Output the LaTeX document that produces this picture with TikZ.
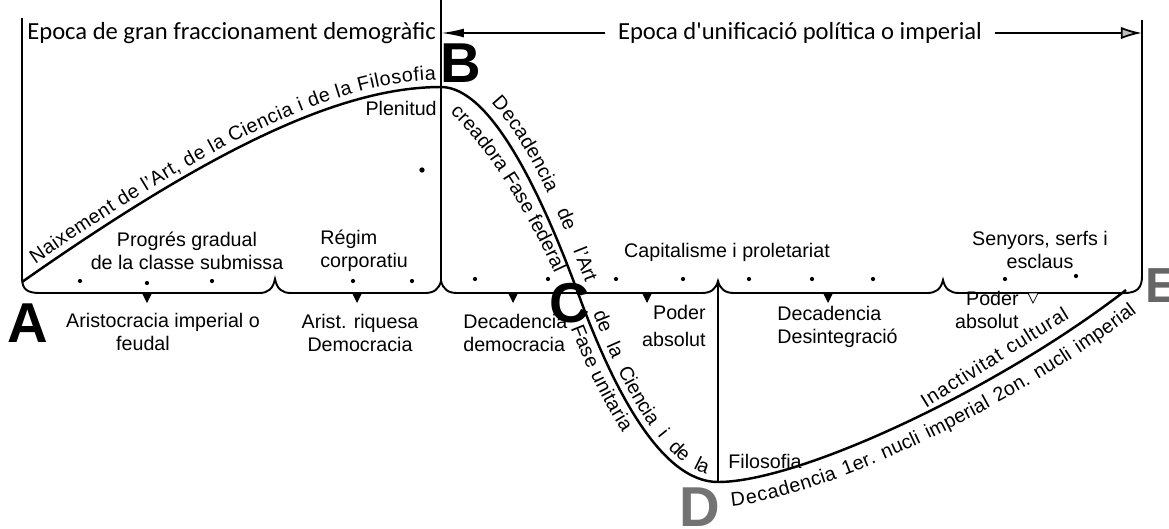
\documentclass[tikz,border=0pt]{standalone}
\usepackage{fontspec}
\setmainfont{Liberation Sans}
\newfontfamily\titlefont{Carlito}
\usepackage{tikz}
\usetikzlibrary{arrows.meta,decorations.text}
\newcommand{\lblfont}{\fontsize{11.2}{12.8}\selectfont}
\tikzset{
    lbl/.style={font=\lblfont, inner sep=0pt},
    ttl/.style={font=\fontsize{14}{16}\selectfont\titlefont, inner sep=0pt},
    bigl/.style={font=\fontsize{32}{34}\selectfont\bfseries, inner sep=0pt},
    frame/.style={line width=1.1pt},
    curve/.style={line width=1.4pt},
    tipmark/.style={insert path={++(-5,0) -- ++(10,0) -- ++(-5,10) -- cycle}}
}
\begin{document}
\begin{tikzpicture}[x=0.02cm,y=-0.02cm]
\useasboundingbox (0,0) rectangle (1169,528);

%titles
\node[ttl, anchor=west] (ttlL) at (27,33) {Epoca de gran fraccionament demogràfic};
\node[ttl, inner xsep=7pt] (ttlR) at (800,33) {Epoca d'unificació política o imperial};
\coordinate (Btop) at (441,33);
\coordinate (Etop) at (1142,33);
\draw[line width=1pt, -{Latex[length=13pt,width=5pt]}] (ttlR.west) -- (Btop);
\draw[line width=1pt, -{Latex[length=12pt,width=7pt,fill=gray!50]}] (ttlR.east) -- (Etop);

%frame and base line
\coordinate (Bpk) at (441,281);
\coordinate (Dpk) at (718,281);
\draw[frame] (22,18) -- (22,278) .. controls (22,290) and (28,293) .. (40,293)
  -- (259,293) .. controls (268,293) and (273,289) .. (275,279) .. controls (277,289) and (282,293) .. (291,293)
  -- (425,293) .. controls (434,293) and (439,289) .. (Bpk) .. controls (443,289) and (448,293) .. (457,293)
  -- (702,293) .. controls (711,293) and (716,289) .. (Dpk) .. controls (720,289) and (725,293) .. (734,293)
  -- (927,293) .. controls (936,293) and (941,289) .. (943,280) .. controls (945,289) and (950,293) .. (959,293)
  -- (1124,293) .. controls (1137,293) and (1142,288) .. (1142,276) -- (1142,20);
\draw[line width=0.6pt] (441,0) -- (Bpk);
\fill (147,293) [tipmark];
\fill (357,293) [tipmark];
\fill (513,293) [tipmark];
\fill (647,293) [tipmark];
\fill (828,293) [tipmark];
\draw[fill=white] (1033,293) [tipmark];
\fill (80,281) circle (1.2pt);
\fill (147,283) circle (1.2pt);
\fill (212,281) circle (1.2pt);
\fill (353,281) circle (1.2pt);
\fill (412,281) circle (1.2pt);
\fill (475,279) circle (1.2pt);
\fill (548,279) circle (1.2pt);
\fill (616,279) circle (1.2pt);
\fill (683,279) circle (1.2pt);
\fill (749,279) circle (1.2pt);
\fill (812,279) circle (1.2pt);
\fill (873,279) circle (1.2pt);
\fill (1005,279) circle (1.2pt);
\fill (1076,276) circle (1.2pt);
\fill (422,170) circle (1.5pt);

%main curve
\coordinate (A) at (22,282);
\coordinate (B) at (441,87);
\coordinate (C) at (578,293);
\coordinate (D) at (718,482);
\coordinate (E) at (1126,290);
\coordinate (ab1) at (210,150);
\coordinate (ab2) at (340,87);
\coordinate (bc1) at (490,87);
\coordinate (bc2) at (540,190);
\coordinate (cd1) at (612,386);
\coordinate (cd2) at (660,482);
\coordinate (de1) at (800,482);
\coordinate (de2) at (1000,388);
\draw[curve] (A) .. controls (ab1) and (ab2) .. (B) .. controls (bc1) and (bc2) .. (C)
  .. controls (cd1) and (cd2) .. (D) .. controls (de1) and (de2) .. (E);
\draw[line width=0.9pt] (Dpk) -- (D);

%texts on the curve
\path[decorate, decoration={text along path, raise=4pt,
  text align={fit to path, left indent=12pt, right indent=3pt},
  text={|\lblfont|Naixement de l'Art, de la Ciencia i de la Filosofia}}]
  (A) .. controls (ab1) and (ab2) .. (B);
\path[decorate, decoration={text along path, raise=6pt,
  text align={fit to path stretching spaces=true, left indent=28pt, right indent=4pt},
  text={|\lblfont|Decadencia de l'Art}}]
  (B) .. controls (bc1) and (bc2) .. (C);
\path[decorate, decoration={text along path,
  text align={left},
  text={|\lblfont|creadora Fase federal}}]
  (450,113) .. controls (490,150) and (528,215) .. (556,276);
\path[decorate, decoration={text along path, raise=4pt,
  text align={fit to path stretching spaces=true, left indent=14pt, right indent=8pt},
  text={|\lblfont|de la Ciencia i de la}}]
  (C) .. controls (cd1) and (cd2) .. (D);
\path[decorate, decoration={text along path, raise=-11pt,
  text align={left, left indent=17pt},
  text={|\lblfont|Fase unitaria}}]
  (C) .. controls (cd1) and (cd2) .. (D);
\path[decorate, decoration={text along path,
  text align={fit to path},
  text={|\lblfont|Inactivitat cultural}}]
  (926,408) .. controls (974,378) and (1024,346) .. (1070,318);
\path[decorate, decoration={text along path, raise=-14pt,
  text align={fit to path stretching spaces=true, left indent=6pt, right indent=3pt},
  text={|\lblfont|Decadencia 1er. nucli imperial 2on. nucli imperial}}]
  (D) .. controls (de1) and (de2) .. (E);

%letters
\node[bigl] (ltrA) at (28,323) {A};
\node[bigl] (ltrB) at (461,63) {B};
\node[bigl] (ltrC) at (570,303) {C};
\node[bigl, text=black!55] (ltrD) at (700,507) {D};
\node[bigl, text=black!60, font=\fontsize{28}{30}\selectfont\bfseries] (ltrE) at (1162,286) {E};

%labels
\node[lbl, anchor=east] (plen) at (437,108) {Plenitud};
\node[lbl, align=center] (prog) at (187,251) {Progrés gradual\\de la classe submissa};
\node[lbl, align=left, anchor=west] (regim) at (320,251) {Régim\\corporatiu};
\node[lbl] (arist) at (163,322) {Aristocracia imperial o};
\node[lbl] (feud) at (143,343) {feudal};
\node[lbl, align=center] (riq) at (360,333) {Arist. riquesa\\Democracia};
\node[lbl, align=left, anchor=west] (decdem) at (463,333) {Decadencia\\democracia};
\node[lbl, align=right, anchor=east] (poder1) at (706,326) {Poder\\[3pt]absolut};
\node[lbl, align=left, anchor=west] (decdes) at (777,327) {Decadencia\\Desintegració};
\node[lbl, align=right, anchor=east] (poder2) at (1019,310) {Poder\\absolut};
\node[lbl] (capit) at (727,252) {Capitalisme i proletariat};
\node[lbl, align=center] (seny) at (1040,250) {Senyors, serfs i\\esclaus};
\node[lbl] (filo) at (765,461) {Filosofia};
\end{tikzpicture}
\end{document}
